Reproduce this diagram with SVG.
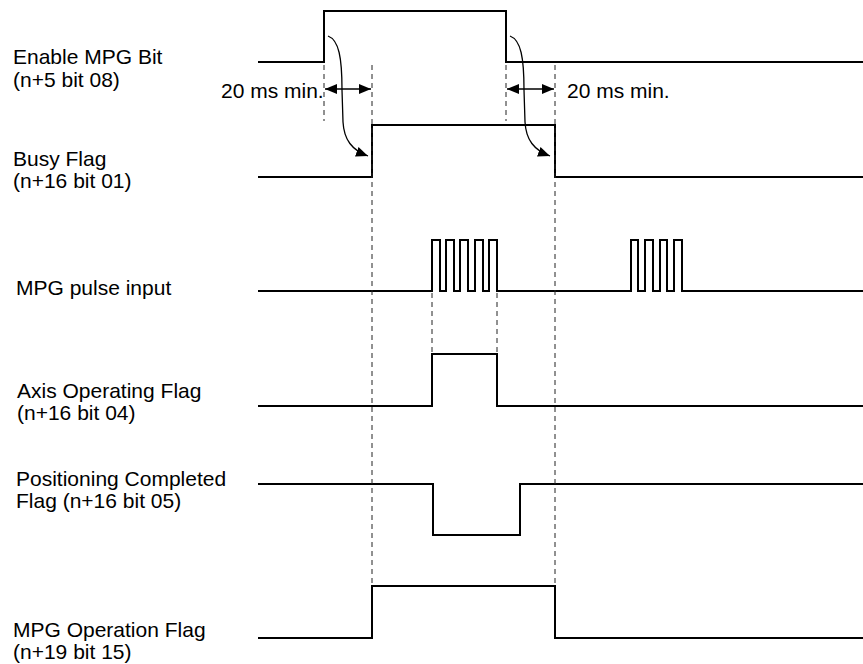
<svg xmlns="http://www.w3.org/2000/svg" width="863" height="664" viewBox="0 0 863 664">
  <defs>
    <style>
      .lbl { font-family: "Liberation Sans", Arial, sans-serif; font-size: 21px; fill: #000; }
      .sig { fill: none; stroke: #000; stroke-width: 2; stroke-linejoin: miter; }
      .dash { fill: none; stroke: #222; stroke-width: 1; stroke-dasharray: 5 4; }
      .arr { fill: none; stroke: #000; stroke-width: 1.3; }
    </style>
    <marker id="head" viewBox="0 0 12 10" refX="12" refY="5" markerWidth="12" markerHeight="10" markerUnits="userSpaceOnUse" orient="auto-start-reverse">
      <path d="M0,0 L12,5 L0,10 Z" fill="#000"/>
    </marker>
  </defs>
  <rect width="863" height="664" fill="#fff"/>

  <g id="enable-mpg-bit">
    <text class="lbl" x="13" y="64">Enable MPG Bit</text>
    <text class="lbl" x="13" y="87">(n+5 bit 08)</text>
    <path class="sig" d="M258,62 H324 V11 H506 V62 H863"/>
  </g>

  <g id="busy-flag">
    <text class="lbl" x="13" y="166">Busy Flag</text>
    <text class="lbl" x="13" y="188">(n+16 bit 01)</text>
    <path class="sig" d="M258,177 H372 V125 H555 V177 H863"/>
  </g>

  <g id="mpg-pulse-input">
    <text class="lbl" x="16" y="295">MPG pulse input</text>
    <path class="sig" d="M258,291 H432 V240 H440 V291 H446 V240 H454 V291 H460 V240 H468 V291 H475 V240 H483 V291 H489 V240 H497 V291 H631 V240 H638 V291 H645 V240 H653 V291 H660 V240 H667 V291 H674 V240 H682 V291 H863"/>
  </g>

  <g id="axis-operating-flag">
    <text class="lbl" x="17" y="398">Axis Operating Flag</text>
    <text class="lbl" x="17" y="420">(n+16 bit 04)</text>
    <path class="sig" d="M258,406 H432 V354 H497 V406 H863"/>
  </g>

  <g id="positioning-completed-flag">
    <text class="lbl" x="16" y="486">Positioning Completed</text>
    <text class="lbl" x="16" y="508">Flag (n+16 bit 05)</text>
    <path class="sig" d="M258,484 H433 V535 H520 V484 H863"/>
  </g>

  <g id="mpg-operation-flag">
    <text class="lbl" x="13" y="637">MPG Operation Flag</text>
    <text class="lbl" x="13" y="659">(n+19 bit 15)</text>
    <path class="sig" d="M258,638 H372 V586 H555 V638 H863"/>
  </g>

  <g id="connectors">
    <line class="dash" x1="324" y1="65" x2="324" y2="121"/>
    <line class="dash" x1="372" y1="65" x2="372" y2="586"/>
    <line class="dash" x1="506" y1="65" x2="506" y2="121"/>
    <line class="dash" x1="555" y1="65" x2="555" y2="586"/>
    <line class="dash" x1="432" y1="293" x2="432" y2="354"/>
    <line class="dash" x1="497" y1="293" x2="497" y2="354"/>

    <line class="arr" x1="325" y1="89" x2="371" y2="89" marker-start="url(#head)" marker-end="url(#head)"/>
    <line class="arr" x1="507" y1="89" x2="554" y2="89" marker-start="url(#head)" marker-end="url(#head)"/>

    <path class="arr" d="M328,36 C339,40 342,58 342,90 L343,122 C344,140 352,150 368,156" marker-end="url(#head)"/>
    <path class="arr" d="M510,36 C521,40 524,58 524,90 L525,122 C526,140 534,150 550,156" marker-end="url(#head)"/>
  </g>

  <g id="timing-labels">
    <text class="lbl" x="221" y="98">20 ms min.</text>
    <text class="lbl" x="567" y="98">20 ms min.</text>
  </g>
</svg>
